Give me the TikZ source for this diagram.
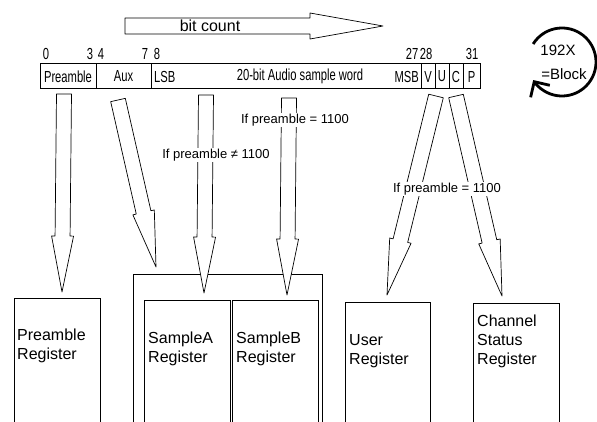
\documentclass[tikz,border=0pt]{standalone}
\usepackage{fontspec}
\setmainfont{Liberation Sans}
\newfontfamily\narrowfont[FakeStretch=0.7]{Liberation Sans}
\usetikzlibrary{arrows.meta, calc, positioning}

\tikzset{
  field/.style={draw, line width=1pt, outer sep=0pt, inner sep=0pt, minimum height=25pt,
                font=\narrowfont\fontsize{16}{18}\selectfont},
  fieldtext/.style={inner sep=0pt, font=\narrowfont\fontsize{16}{18}\selectfont},
  bitno/.style={inner sep=0pt, font=\narrowfont\fontsize{16}{18}\selectfont},
  register/.style={draw, line width=0.9pt, anchor=north west, inner sep=0pt,
                   minimum width=86pt, minimum height=135pt},
  regtext/.style={anchor=north west, align=left, inner sep=1pt,
                  font=\fontsize{16}{19}\selectfont},
  cond/.style={fill=white, inner sep=1pt, font=\fontsize{13}{15}\selectfont},
  fat/.style={draw, line width=0.7pt, fill=white, line join=round},
}

% hollow block arrow from #1 to #2
\newcommand{\fatarrow}[2]{%
  \path ($(#2)!56pt!(#1)$) coordinate (hd);
  \draw[fat] ($(#1)!7.5pt!90:(#2)$) -- ($(hd)!7.5pt!90:(#2)$) -- ($(hd)!11pt!90:(#2)$)
    -- (#2) -- ($(hd)!11pt!-90:(#2)$) -- ($(hd)!7.5pt!-90:(#2)$) -- ($(#1)!7.5pt!-90:(#2)$) -- cycle;}

\begin{document}
\begin{tikzpicture}[x=1pt, y=-1pt]
  \useasboundingbox (0,0) rectangle (597,422);

  % bit count arrow
  \draw[fat] (125,18) -- (310,18) -- (310,13) -- (383,26) -- (310,39) -- (310,34) -- (125,34) -- cycle;
  \node[cond, inner xsep=3pt, font=\fontsize{16}{18}\selectfont] (count) at (210,26) {bit count};

  % subframe
  \node[field, minimum width=56pt, anchor=north west] (pre) at (40,64) {Preamble};
  \node[field, minimum width=55pt, right=0pt of pre] (aux) {Aux};
  \node[field, minimum width=270pt, right=0pt of aux] (word) {};
  \node[field, minimum width=14pt, right=0pt of word] (V) {V};
  \node[field, minimum width=14pt, right=0pt of V] (U) {U};
  \node[field, minimum width=14pt, right=0pt of U] (C) {C};
  \node[field, minimum width=17pt, right=0pt of C] (P) {P};
  \node[fieldtext, anchor=west] (lsb) at ([xshift=3pt]word.west) {LSB};
  \node[fieldtext] (sample) at (300,76) {20-bit Audio sample word};
  \node[fieldtext, anchor=east] (msb) at ([xshift=-2pt]word.east) {MSB};

  % bit numbers
  \foreach \n/\x in {0/46, 3/90, 4/101, 7/145, 8/157, 27/412, 28/426, 31/472}
    \node[bitno] (b\n) at (\x,54) {\n};

  % registers
  \node[register] (preReg) at (14,298) {};
  \node[register, minimum width=189pt, minimum height=160pt] (sampGrp) at (133,274) {};
  \node[register] (sampA) at (144,300) {};
  \node[register] (sampB) at (232,300) {};
  \node[register, minimum width=85pt] (userReg) at (345,302) {};
  \node[register] (chanReg) at (473,303) {};
  \node[regtext] (preTxt) at ([shift={(2,30)}]preReg.north west) {Preamble\\Register};
  \node[regtext] (sampATxt) at ([shift={(3,31)}]sampA.north west) {SampleA\\Register};
  \node[regtext] (sampBTxt) at ([shift={(3,31)}]sampB.north west) {SampleB\\Register};
  \node[regtext] (userTxt) at ([shift={(3,31)}]userReg.north west) {User\\Register};
  \node[regtext] (chanTxt) at ([shift={(3,11)}]chanReg.north west) {Channel\\Status\\Register};

  % arrow ends
  \coordinate (preS) at (64,94);   \coordinate (preE) at (62,292);
  \coordinate (auxS) at (118,100); \coordinate (auxE) at (156,267);
  \coordinate (smaS) at (206,95);  \coordinate (smaE) at (204,293);
  \coordinate (smbS) at (289,98);  \coordinate (smbE) at (287,295);
  \coordinate (usrS) at (436,96);  \coordinate (usrE) at (387,295);
  \coordinate (chS) at (456,96);   \coordinate (chE) at (502,296);

  \fatarrow{preS}{preE}
  \fatarrow{auxS}{auxE}
  \fatarrow{smaS}{smaE}
  \fatarrow{smbS}{smbE}
  \fatarrow{usrS}{usrE}
  \fatarrow{chS}{chE}

  \node[cond] (condA) at (216,155) {If preamble ≠ 1100};
  \node[cond] (condB) at (295,120) {If preamble = 1100};
  \node[cond] (condU) at (447,189) {If preamble = 1100};

  % block counter
  \coordinate (blk) at (562,62);
  \draw[line width=2.8pt, -{Straight Barb[angle=90:16pt]}]
    ($(blk)+(-148:34)$) arc[start angle=-148, end angle=148, radius=34];
  \node[inner sep=0pt, font=\fontsize{15}{17}\selectfont] (cnt) at (558,50) {192X};
  \node[inner sep=0pt, font=\fontsize{15}{17}\selectfont] (blkTxt) at (564,74) {=Block};
\end{tikzpicture}
\end{document}
